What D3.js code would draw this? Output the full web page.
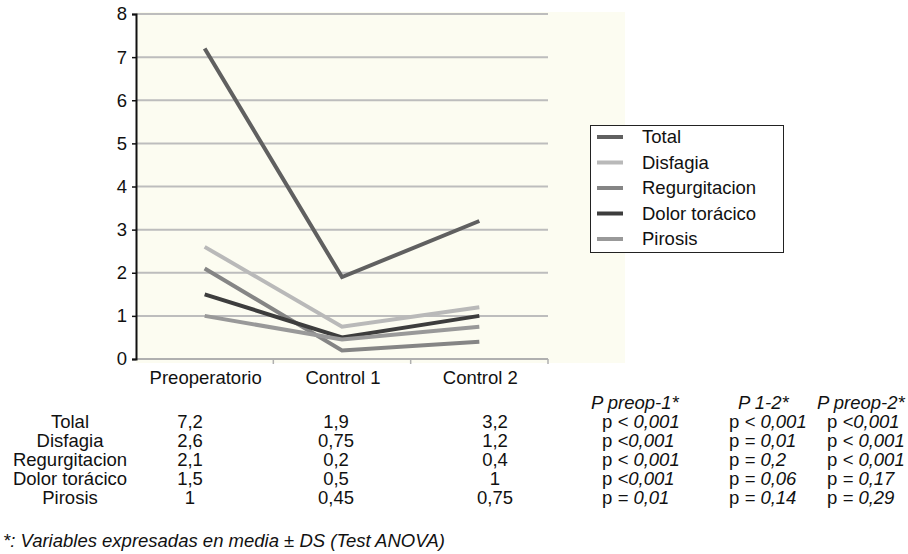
<!DOCTYPE html>
<html>
<head>
<meta charset="utf-8">
<script src="https://cdn.jsdelivr.net/npm/d3@7"></script>
<style>
  html, body { margin: 0; padding: 0; background: #fff; }
  svg { display: block; font-family: "Liberation Sans", Arial, Helvetica, sans-serif; }
  .tick text { font-size: 18.5px; fill: #111; }
</style>
</head>
<body>
<svg id="chart" width="908" height="554"></svg>
<script>
// chart data
const categories = ['Preoperatorio', 'Control 1', 'Control 2'];
const seriesNames = ['Total', 'Disfagia', 'Regurgitacion', 'Dolor torácico', 'Pirosis'];
const total = [7.2, 1.9, 3.2];
const disfagia = [2.6, 0.75, 1.2];
const regurgitacion = [2.1, 0.2, 0.4];
const dolor = [1.5, 0.5, 1];
const pirosis = [1, 0.45, 0.75];
const yTicks = [0, 1, 2, 3, 4, 5, 6, 7, 8];

// table under the chart
const rowLabels = ['Tolal', 'Disfagia', 'Regurgitacion', 'Dolor torácico', 'Pirosis'];
const cellText = [
  ['7,2', '1,9', '3,2'],
  ['2,6', '0,75', '1,2'],
  ['2,1', '0,2', '0,4'],
  ['1,5', '0,5', '1'],
  ['1', '0,45', '0,75']
];
const pHeaders = ['P preop-1*', 'P 1-2*', 'P preop-2*'];
// [operator, value, no space after operator]
const pPreop1 = [['<', '0,001'], ['<', '0,001', true], ['<', '0,001'], ['<', '0,001', true], ['=', '0,01']];
const p12 = [['<', '0,001'], ['=', '0,01'], ['=', '0,2'], ['=', '0,06'], ['=', '0,14']];
const pPreop2 = [['<', '0,001', true], ['<', '0,001'], ['<', '0,001'], ['=', '0,17'], ['=', '0,29']];
const footnote = '*: Variables expresadas en media \u00b1  DS (Test ANOVA)';

const seriesValues = [total, disfagia, regurgitacion, dolor, pirosis];
const seriesColors = ['#606060', '#b9b9b9', '#858585', '#3d3d3d', '#999999'];

const FS = 18.5;
const svg = d3.select('#chart');
const plot = {left: 136, right: 548, top: 14, bottom: 359};

const x = d3.scaleBand().domain(categories).range([plot.left, plot.right]).padding(0);
const y = d3.scaleLinear().domain([0, 8]).range([plot.bottom, plot.top]);
const cx = c => x(c) + x.bandwidth() / 2;

// cream plot background
svg.append('rect')
  .attr('x', plot.left).attr('y', plot.top - 2)
  .attr('width', 625 - plot.left).attr('height', plot.bottom - plot.top + 6)
  .attr('fill', '#fcfcf1');

// gridlines
svg.append('g').selectAll('line')
  .data(yTicks.filter(d => d > 0)).join('line')
  .attr('x1', plot.left).attr('x2', plot.right)
  .attr('y1', d => y(d)).attr('y2', d => y(d))
  .attr('stroke', '#bdbdbd').attr('stroke-width', 2);

// x axis (line + boundary ticks, labels at band centres)
const gx = svg.append('g');
gx.append('line')
  .attr('x1', plot.left).attr('x2', plot.right)
  .attr('y1', plot.bottom).attr('y2', plot.bottom)
  .attr('stroke', '#b0b0b0').attr('stroke-width', 2);
gx.selectAll('line.tk')
  .data(categories).join('line').attr('class', 'tk')
  .attr('x1', d => x(d) + x.bandwidth()).attr('x2', d => x(d) + x.bandwidth())
  .attr('y1', plot.bottom).attr('y2', plot.bottom + 5)
  .attr('stroke', '#b0b0b0').attr('stroke-width', 1.5);
gx.selectAll('text')
  .data(categories).join('text')
  .attr('x', d => cx(d) + 1).attr('y', 384)
  .attr('text-anchor', 'middle')
  .attr('font-size', FS).attr('fill', '#111')
  .text(d => d);

// y axis
const gy = svg.append('g').attr('transform', `translate(${plot.left},0)`)
  .call(d3.axisLeft(y).tickValues(yTicks).tickSize(4).tickPadding(5).tickFormat(d3.format('d')));
gy.select('.domain').attr('stroke', '#111').attr('stroke-width', 2);
gy.selectAll('.tick line').attr('stroke', '#111').attr('stroke-width', 1.5);

// lines
const line = d3.line().x((d, i) => cx(categories[i])).y(d => y(d));
svg.append('g').selectAll('path')
  .data(seriesValues).join('path')
  .attr('d', d => line(d))
  .attr('fill', 'none')
  .attr('stroke', (d, i) => seriesColors[i])
  .attr('stroke-width', 4)
  .attr('stroke-linejoin', 'miter');

// legend
const lg = svg.append('g');
lg.append('rect')
  .attr('x', 590.5).attr('y', 125.5).attr('width', 193).attr('height', 127)
  .attr('fill', '#fff').attr('stroke', '#222').attr('stroke-width', 1);
const li = lg.selectAll('g.item')
  .data(seriesNames).join('g').attr('class', 'item')
  .attr('transform', (d, i) => `translate(0,${143 + i * 25.5})`);
li.append('line')
  .attr('x1', 597).attr('x2', 623).attr('y1', -6).attr('y2', -6)
  .attr('stroke', (d, i) => seriesColors[i]).attr('stroke-width', 4);
li.append('text')
  .attr('x', 642).attr('y', 0)
  .attr('font-size', FS).attr('fill', '#111')
  .text(d => d);

// table
const rowY = i => 428 + i * 19;
const tbl = svg.append('g').attr('font-size', FS).attr('fill', '#111');
tbl.selectAll('text.lab')
  .data(rowLabels).join('text').attr('class', 'lab')
  .attr('x', 70).attr('y', (d, i) => rowY(i))
  .attr('text-anchor', 'middle')
  .text(d => d);
const colX = [190, 336, 495];
cellText.forEach((row, r) => {
  tbl.selectAll(null)
    .data(row).join('text')
    .attr('x', (d, c) => colX[c]).attr('y', rowY(r))
    .attr('text-anchor', 'middle')
    .text(d => d);
});

const pHeadX = [591, 738, 817];
const pValX = [602, 729, 827];
tbl.selectAll('text.ph')
  .data(pHeaders).join('text').attr('class', 'ph')
  .attr('x', (d, i) => pHeadX[i]).attr('y', 409)
  .attr('font-style', 'italic')
  .text(d => d);

[pPreop1, p12, pPreop2].forEach((col, c) => {
  const t = tbl.selectAll(null)
    .data(col).join('text')
    .attr('x', pValX[c]).attr('y', (d, i) => rowY(i));
  t.append('tspan').text('p ');
  t.append('tspan').attr('font-style', 'italic').text(d => d[2] ? d[0] : d[0] + ' ');
  t.append('tspan').attr('font-style', 'italic').text(d => d[1]);
});

svg.append('text')
  .attr('x', 3).attr('y', 547)
  .attr('font-size', FS).attr('font-style', 'italic').attr('fill', '#111')
  .text(footnote);
</script>
</body>
</html>
